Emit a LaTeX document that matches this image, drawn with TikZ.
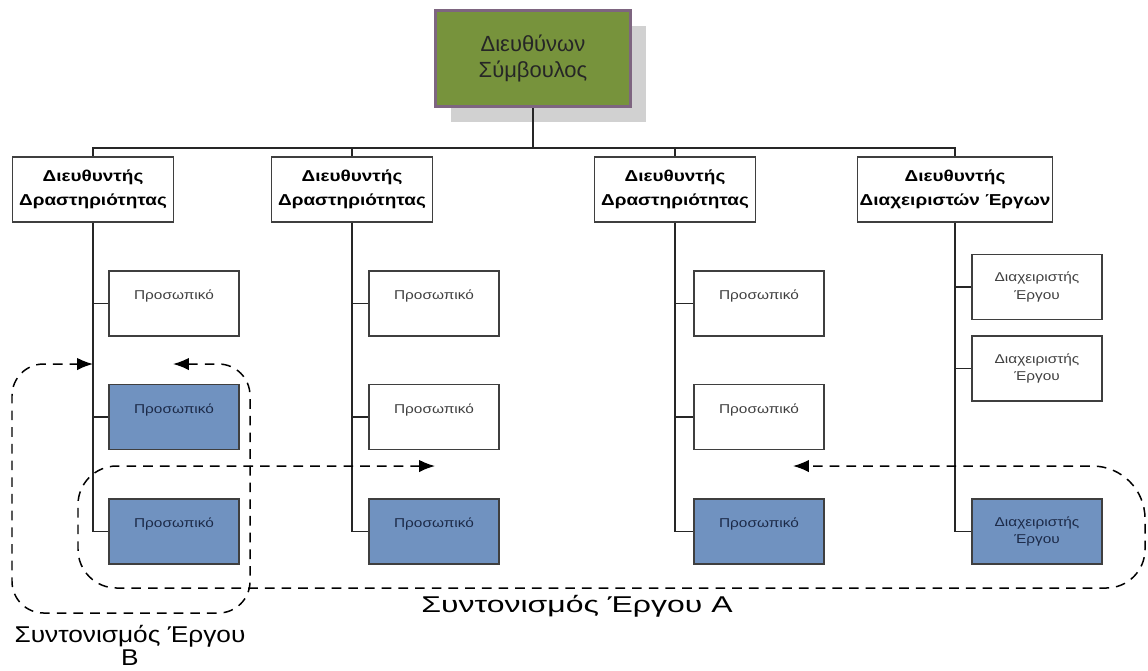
\documentclass[tikz,border=0pt]{standalone}
\usepackage{fontspec}
\setmainfont{Liberation Sans}
\newfontfamily\widefont[FakeStretch=1.2]{Liberation Sans}
\newfontfamily\wlabelfont[FakeStretch=1.4]{Liberation Sans}
\newfontfamily\mlabelfont[FakeStretch=1.15]{Liberation Sans}
\usetikzlibrary{positioning,arrows.meta,shadows}
\definecolor{ceogreen}{HTML}{77933C}
\definecolor{ceoedge}{HTML}{7E6580}
\definecolor{taskblue}{HTML}{7092C0}
\definecolor{boxedge}{HTML}{3F3F3F}
\definecolor{navytext}{HTML}{1C2A48}
\begin{document}
\begin{tikzpicture}[x=0.02cm,y=-0.02cm,
                    ceo node/.style={rectangle,draw=ceoedge,line width=1.6pt,fill=ceogreen,
                                     minimum width=3.9cm,minimum height=1.92cm,inner sep=0pt,
                                     align=center,font=\fontsize{12.5}{15}\selectfont,text=black!85,
                                     drop shadow={shadow xshift=9pt,shadow yshift=-9pt,fill=black!18,opacity=1}},
                    head node/.style={rectangle,draw=boxedge,line width=0.8pt,fill=white,
                                      minimum width=3.22cm,minimum height=1.3cm,inner sep=0pt,
                                      align=center,font=\widefont\bfseries\fontsize{9}{13.5}\selectfont},
                    staff node/.style={rectangle,draw=boxedge,line width=0.8pt,fill=white,
                                       minimum width=2.6cm,minimum height=1.3cm,inner sep=0pt,
                                       align=center,text=black!75,font=\widefont\fontsize{7.3}{10}\selectfont},
                    task node/.style={staff node,fill=taskblue,text=navytext},
                    link/.style={line width=0.95pt,black!85},
                    coord line/.style={dashed,line width=0.85pt,dash pattern=on 5.5pt off 4pt,
                                       {Latex[length=9pt,width=7pt]}-{Latex[length=9pt,width=7pt]}}
                   ]
  \useasboundingbox (0,0) rectangle (1148,670);
  % top
  \node[ceo node] (ceo) at (533,58.5) {Διευθύνων\\Σύμβουλος};
  % heads
  \node[head node] (d1) at (93,189.5) {Διευθυντής\\Δραστηριότητας};
  \node[head node] (d2) at (352,189.5) {Διευθυντής\\Δραστηριότητας};
  \node[head node] (d3) at (675,189.5) {Διευθυντής\\Δραστηριότητας};
  \node[head node,minimum width=3.9cm] (d4) at (955,189.5) {Διευθυντής\\Διαχειριστών Έργων};
  % staff, columns 1-3
  \node[staff node] (p11) at (174,303.5) {Προσωπικό\\\mbox{}};
  \node[task node]  (p12) at (174,417) {Προσωπικό\\\mbox{}};
  \node[task node]  (p13) at (174,531.5) {Προσωπικό\\\mbox{}};
  \node[staff node] (p21) at (434,303.5) {Προσωπικό\\\mbox{}};
  \node[staff node] (p22) at (434,417) {Προσωπικό\\\mbox{}};
  \node[task node]  (p23) at (434,531.5) {Προσωπικό\\\mbox{}};
  \node[staff node] (p31) at (759,303.5) {Προσωπικό\\\mbox{}};
  \node[staff node] (p32) at (759,417) {Προσωπικό\\\mbox{}};
  \node[task node]  (p33) at (759,531.5) {Προσωπικό\\\mbox{}};
  % project managers
  \node[staff node] (m1) at (1037,287) {Διαχειριστής\\Έργου};
  \node[staff node] (m2) at (1037,368.5) {Διαχειριστής\\Έργου};
  \node[task node]  (m3) at (1037,531.5) {Διαχειριστής\\Έργου};
  % tree lines
  \coordinate (bus) at (0,148);
  \draw[link] (ceo.south) -- (ceo.south |- bus);
  \draw[link] (d1.north) -- (d1.north |- bus) -- (d4.north |- bus) -- (d4.north);
  \draw[link] (d2.north) -- (d2.north |- bus);
  \draw[link] (d3.north) -- (d3.north |- bus);
  \foreach \d/\s in {d1/p11,d1/p12,d1/p13,d2/p21,d2/p22,d2/p23,d3/p31,d3/p32,d3/p33,d4/m1,d4/m2,d4/m3}
    \draw[link] (\d.south) |- (\s.west);
  % coordination A
  \coordinate (aL) at (435,466);
  \coordinate (aR) at (793,466);
  \draw[coord line,rounded corners=22pt] (aL) -- (78,466) -- (78,588) -- (1145,588)
                    [rounded corners=30pt] -- (1145,466) -- (aR);
  \node[font=\wlabelfont\fontsize{13}{16}\selectfont] (labA) at (577,606) {Συντονισμός Έργου A};
  % coordination B
  \coordinate (bR) at (173,364);
  \coordinate (bL) at (d1.south |- bR);
  \draw[coord line,rounded corners=18pt] (bR) -- (250,364) -- (250,613) -- (12,613) -- (12,364) -- (bL);
  \node[align=center,inner sep=0pt,font=\mlabelfont\fontsize{13}{13}\selectfont] (labB) at (130,645) {Συντονισμός Έργου\\B};
\end{tikzpicture}
\end{document}
